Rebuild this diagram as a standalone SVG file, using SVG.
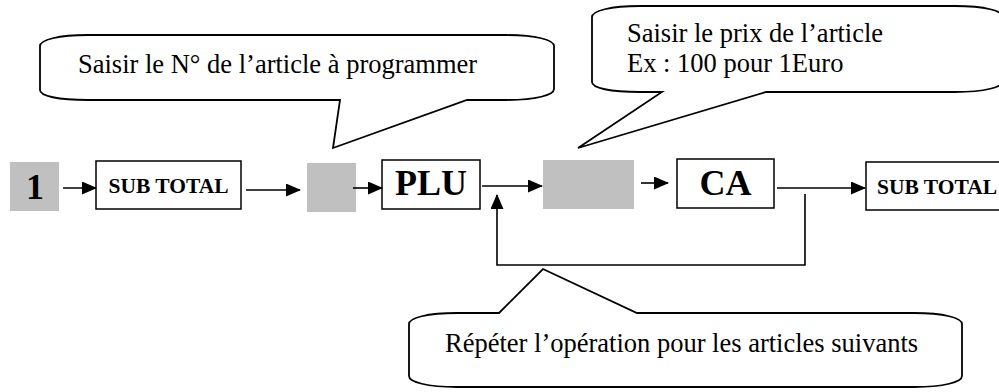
<svg xmlns="http://www.w3.org/2000/svg" width="999" height="392" viewBox="0 0 999 392">
<style>
.bg{fill:#ffffff}
.gray{fill:#c0c0c0}
.box{fill:#ffffff;stroke:#000;stroke-width:1.5}
.callout{fill:#ffffff;stroke:#000;stroke-width:1.8;stroke-linejoin:miter}
.ct{font-family:"Liberation Serif","Times New Roman",serif;font-size:26.5px;fill:#000}
.bt{font-family:"Liberation Serif","Times New Roman",serif;font-weight:bold;fill:#000}
.conn{fill:none;stroke:#000;stroke-width:1.6}
</style>
<defs>
<marker id="ah" markerUnits="userSpaceOnUse" markerWidth="15" markerHeight="13" refX="14" refY="6.5" orient="auto">
<path d="M0,0 L15,6.5 L0,13 z" fill="#000"/>
</marker>
</defs>
<rect class="bg" x="0" y="0" width="999" height="392"/>

<g id="callout-article">
<path class="callout" d="M88,35 L506,35 C536,35 554,40 554,46 L554,89 C554,95 536,100 506,100 L467,100 L333,148 L340,100 L88,100 C58,100 40,96 40,90 L40,46 C40,40 58,35 88,35 Z"/>
<text class="ct" x="78" y="73">Saisir le N° de l’article à programmer</text>
</g>

<g id="callout-prix">
<path class="callout" d="M640,6 L955,6 C985,6 1003,11 1003,17 L1003,81 C1003,87 985,92 955,92 L766,92 L578,148 L662,92 L640,92 C610,92 592,88 592,82 L592,17 C592,11 610,6 640,6 Z"/>
<text class="ct" x="627" y="42">Saisir le prix de l’article</text>
<text class="ct" x="627" y="72">Ex : 100 pour 1Euro</text>
</g>

<g id="callout-repeter">
<path class="callout" d="M457,313 L499,313 L543,269 L637,313 L914,313 C944,313 962,318 962,324 L962,376 C962,382 944,387 914,387 L457,387 C427,387 409,382 409,376 L409,324 C409,318 427,313 457,313 Z"/>
<text class="ct" x="445" y="352">Répéter l’opération pour les articles suivants</text>
</g>

<g id="node-1">
<rect class="gray" x="10" y="162" width="49" height="49"/>
<text class="bt" x="35" y="199" font-size="36" text-anchor="middle">1</text>
</g>

<g id="node-subtotal1">
<rect class="box" x="96" y="161" width="145" height="48"/>
<text class="bt" x="168.5" y="193" font-size="21.5" text-anchor="middle">SUB TOTAL</text>
</g>

<g id="node-gray1">
<rect class="gray" x="307" y="163" width="49" height="49"/>
</g>

<g id="node-plu">
<rect class="box" x="382" y="160" width="98" height="49"/>
<text class="bt" x="431" y="195" font-size="36" text-anchor="middle">PLU</text>
</g>

<g id="node-gray2">
<rect class="gray" x="543" y="160" width="91" height="49"/>
</g>

<g id="node-ca">
<rect class="box" x="677" y="159" width="97" height="49"/>
<text class="bt" x="725.5" y="195" font-size="36" text-anchor="middle">CA</text>
</g>

<g id="node-subtotal2">
<rect class="box" x="866" y="162" width="145" height="48"/>
<text class="bt" x="877" y="194" font-size="21.5">SUB TOTAL</text>
</g>

<g id="connectors">
<line class="conn" x1="63" y1="188" x2="96" y2="188" marker-end="url(#ah)"/>
<line class="conn" x1="246" y1="190" x2="300" y2="190" marker-end="url(#ah)"/>
<line class="conn" x1="353" y1="188" x2="382" y2="188" marker-end="url(#ah)"/>
<line class="conn" x1="482" y1="186" x2="542" y2="186" marker-end="url(#ah)"/>
<line class="conn" x1="641" y1="183" x2="668" y2="183" marker-end="url(#ah)"/>
<line class="conn" x1="777" y1="188" x2="865" y2="188" marker-end="url(#ah)"/>
<polyline class="conn" points="805,194 805,265 497,265 497,195" marker-end="url(#ah)"/>
</g>
</svg>
